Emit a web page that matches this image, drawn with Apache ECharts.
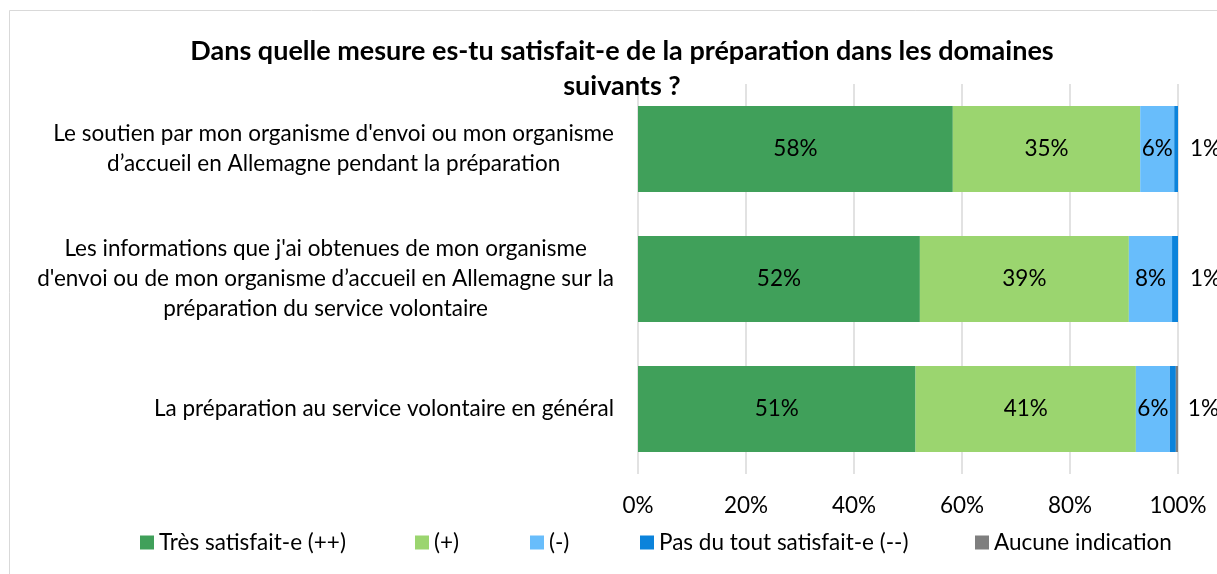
<!DOCTYPE html>
<html>
<head>
<meta charset="utf-8">
<title>Préparation</title>
<script src="https://cdn.jsdelivr.net/npm/echarts@6/dist/echarts.min.js"></script>
<style>
  html, body { margin: 0; padding: 0; background: #fff; }
  #chart { width: 1217px; height: 574px; }
</style>
</head>
<body>
<div id="chart"></div>
<script>
// catégories (du haut vers le bas)
const categories = [
  "Le soutien par mon organisme d'envoi ou mon organisme\nd’accueil en Allemagne pendant la préparation",
  "Les informations que j'ai obtenues de mon organisme\nd'envoi ou de mon organisme d’accueil en Allemagne sur la\npréparation du service volontaire",
  'La préparation au service volontaire en général'
]
// valeurs en %
const tresSatisfait = [58.3, 52.2, 51.4]
const plus = [34.7, 38.7, 40.8]
const moins = [6.3, 8.0, 6.3]
const pasDuTout = [0.7, 1.1, 1.1]
const aucune = [0, 0, 0.4]
const xTicks = [0, 20, 40, 60, 80, 100]

const FONT = 'Lato'
const FS = 22.5
const chart = echarts.init(document.getElementById('chart'))

// étiquette de valeur arrondie
const pct = p => (p.value > 0 ? Math.round(p.value) + '%' : '')

function barSeries (name, data, color, label) {
  return {
    name: name,
    type: 'bar',
    stack: 'total',
    data: data,
    barWidth: 86,
    itemStyle: { color: color },
    label: Object.assign({
      show: true,
      position: 'inside',
      color: '#000',
      fontFamily: FONT,
      fontSize: FS,
      formatter: pct
    }, label || {})
  }
}

// une légende par entrée pour garder l'espacement d'Excel
const legendLefts = [135, 410, 525, 635, 970]
const names = ['Très satisfait-e (++)', '(+)', '(-)', 'Pas du tout satisfait-e (--)', 'Aucune indication']
const legends = names.map((n, i) => ({
  data: [n],
  left: legendLefts[i],
  top: 526,
  icon: 'rect',
  itemWidth: 14,
  itemHeight: 14,
  itemGap: 6,
  selectedMode: false,
  textStyle: { fontFamily: FONT, fontSize: FS, color: '#000' }
}))

const option = {
  animation: false,
  backgroundColor: '#fff',
  title: {
    text: 'Dans quelle mesure es-tu satisfait-e de la préparation dans les domaines\nsuivants ?',
    left: 617,
    top: 29,
    textAlign: 'center',
    textStyle: { fontFamily: FONT, fontWeight: 'bold', fontSize: 27, lineHeight: 35, color: '#000' }
  },
  legend: legends,
  grid: { left: 638, right: 39, top: 84, bottom: 100 },
  xAxis: {
    type: 'value',
    min: 0,
    max: 100,
    interval: 20,
    axisLine: { show: false },
    axisTick: { show: false },
    splitLine: { lineStyle: { color: '#d9d9d9', width: 1.5 } },
    axisLabel: {
      margin: 20,
      fontFamily: FONT,
      fontSize: FS,
      color: '#000',
      formatter: v => (xTicks.includes(v) ? v + '%' : '')
    }
  },
  yAxis: {
    type: 'category',
    inverse: true,
    data: categories,
    axisLine: { show: false },
    axisTick: { show: false },
    axisLabel: {
      margin: 24,
      align: 'right',
      // chaque ligne centrée dans le bloc
      formatter: v => v.split('\n').map(l => '{c|' + l + '}').join('\n'),
      rich: {
        c: { align: 'center', fontFamily: FONT, fontSize: FS, lineHeight: 30, color: '#000' }
      }
    }
  },
  graphic: [{
    type: 'rect',
    shape: { x: 9.5, y: 10.5, width: 1400, height: 800 },
    style: { fill: 'none', stroke: '#d9d9d9', lineWidth: 1 },
    silent: true
  }],
  series: [
    barSeries(names[0], tresSatisfait, '#40a05a'),
    barSeries(names[1], plus, '#9bd56f'),
    barSeries(names[2], moins, '#68bdfb'),
    barSeries(names[3], pasDuTout, '#0b83db', { position: 'right', distance: 12 }),
    barSeries(names[4], aucune, '#7f7f7f', { show: false })
  ]
}

chart.setOption(option)
</script>
</body>
</html>
